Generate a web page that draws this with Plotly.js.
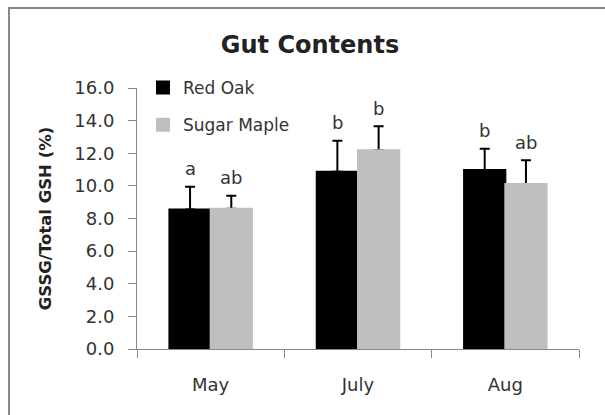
<!DOCTYPE html>
<html>
<head>
<meta charset="utf-8">
<script src="https://cdn.plot.ly/plotly-3.0.1.min.js"></script>
<style>
  html, body { margin: 0; padding: 0; background: #fff; }
  #chart { width: 605px; height: 415px; }
</style>
</head>
<body>
<div id="chart"></div>
<script>
// ---- data ----
const months = ['May', 'July', 'Aug'];
const redOak = [8.55, 10.87, 10.98];
const redOakErr = [1.40, 1.90, 1.30];
const sugarMaple = [8.60, 12.18, 10.12];
const sugarMapleErr = [0.80, 1.48, 1.45];
const redOakLetters = ['a', 'b', 'b'];
const sugarMapleLetters = ['ab', 'b', 'ab'];

// ---- layout constants ----
const W = 605, H = 415;
const M = { l: 137, r: 26, t: 88, b: 66 };
const plotW = W - M.l - M.r, plotH = H - M.t - M.b;
const BARGAP = 0.44;
const barW = (1 - BARGAP) / 2;
const FONT = 'DejaVu Sans, sans-serif';
const TXT = '#333333';
const AXC = '#888888';
const RO_COLOR = '#000000';
const SM_COLOR = '#bfbfbf';

function errOpts(arr) {
  return { type: 'data', array: arr, arrayminus: arr.map(() => 0), symmetric: false,
           color: '#000000', thickness: 2, width: 5 };
}

// Error bars are carried by transparent bars drawn first, so the real bars
// (drawn afterwards at the same offset) hide the lower end of each error bar.
const traces = [
  { type: 'bar', name: 'Red Oak', x: months, y: redOak, offsetgroup: 'ro', showlegend: false,
    marker: { color: 'rgba(0,0,0,0)' }, error_y: errOpts(redOakErr) },
  { type: 'bar', name: 'Sugar Maple', x: months, y: sugarMaple, offsetgroup: 'sm', showlegend: false,
    marker: { color: 'rgba(0,0,0,0)' }, error_y: errOpts(sugarMapleErr) },
  { type: 'bar', name: 'Red Oak', x: months, y: redOak, offsetgroup: 'ro', legendgroup: 'g1',
    marker: { color: RO_COLOR, line: { color: RO_COLOR, width: 2 } } },
  { type: 'bar', name: 'Sugar Maple', x: months, y: sugarMaple, offsetgroup: 'sm', legendgroup: 'g2',
    marker: { color: SM_COLOR, line: { color: SM_COLOR, width: 2 } } }
];

const annotations = [];
months.forEach((m, i) => {
  annotations.push({ x: i - barW / 2, y: redOak[i] + redOakErr[i], xref: 'x', yref: 'y',
    text: redOakLetters[i], showarrow: false, yanchor: 'middle', yshift: 18,
    font: { family: FONT, size: 18, color: TXT } });
  annotations.push({ x: i + barW / 2, y: sugarMaple[i] + sugarMapleErr[i], xref: 'x', yref: 'y',
    text: sugarMapleLetters[i], showarrow: false, yanchor: 'middle', yshift: 18,
    font: { family: FONT, size: 18, color: TXT } });
});

const layout = {
  width: W, height: H,
  margin: M,
  paper_bgcolor: '#ffffff', plot_bgcolor: '#ffffff',
  font: { family: FONT, color: TXT },
  title: { text: '<b>Gut Contents</b>', x: 310 / W, xanchor: 'center', y: 1 - 45 / H, yanchor: 'middle',
           font: { family: FONT, size: 24, color: '#222222' } },
  barmode: 'group', bargap: BARGAP, bargroupgap: 0,
  showlegend: true,
  legend: { x: (143 - M.l) / plotW, y: 1 + (M.t - 70) / plotH, xanchor: 'left', yanchor: 'top',
            bgcolor: 'rgba(0,0,0,0)', tracegroupgap: 12, traceorder: 'grouped',
            font: { family: FONT, size: 17, color: TXT } },
  xaxis: {
    type: 'category', showgrid: false, zeroline: false,
    showline: true, linecolor: AXC, linewidth: 1,
    ticks: 'outside', tickson: 'boundaries', ticklen: 8, tickcolor: AXC, tickwidth: 1,
    ticklabelstandoff: 19,
    tickfont: { family: FONT, size: 18, color: TXT }
  },
  yaxis: {
    range: [0, 16], dtick: 2, tickformat: '.1f', showgrid: false, zeroline: false,
    showline: true, linecolor: AXC, linewidth: 1,
    ticks: 'outside', ticklen: 8, tickcolor: AXC, tickwidth: 1,
    ticklabelstandoff: 10,
    tickfont: { family: FONT, size: 18, color: TXT },
    title: { text: '<b>GSSG/Total GSH (%)</b>', standoff: 18, font: { family: FONT, size: 16.5, color: '#222222' } }
  },
  annotations: annotations,
  shapes: [{
    type: 'rect', xref: 'paper', yref: 'paper',
    x0: (9 - M.l) / plotW, x1: 1 + (M.r + 20) / plotW,
    y0: -(M.b + 20) / plotH, y1: 1 + (M.t - 8) / plotH,
    line: { color: AXC, width: 2 }, fillcolor: 'rgba(0,0,0,0)', layer: 'below'
  }]
};

Plotly.newPlot('chart', traces, layout, { displayModeBar: false, staticPlot: true });
</script>
</body>
</html>
